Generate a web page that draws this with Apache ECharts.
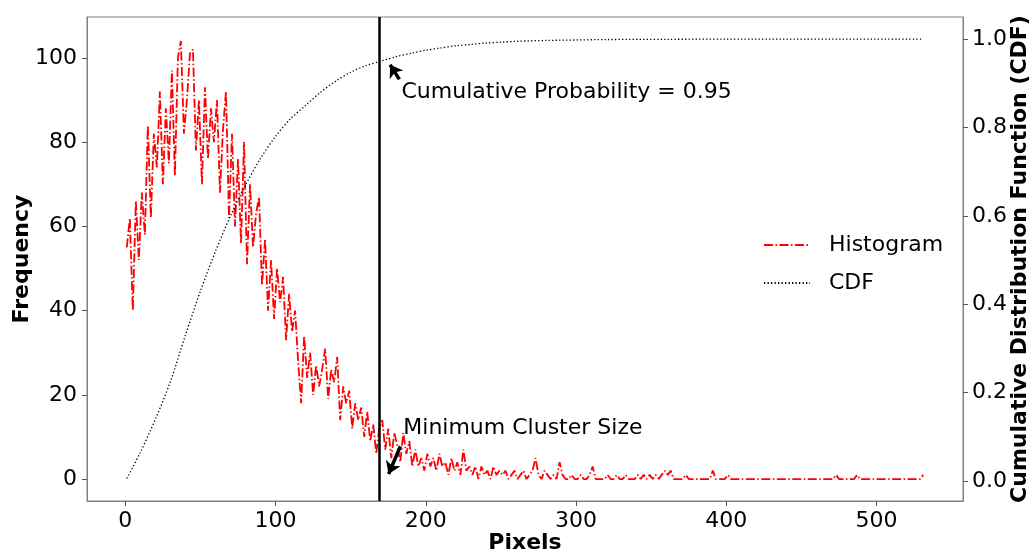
<!DOCTYPE html>
<html>
<head>
<meta charset="utf-8">
<script src="https://cdn.jsdelivr.net/npm/echarts@6/dist/echarts.min.js"></script>
<style>
html, body { margin: 0; padding: 0; background: #fff; }
#main { width: 1034px; height: 557px; }
</style>
</head>
<body>
<div id="main"></div>
<script>
// histogram: one value every 2 pixels, starting at pixel 1
var histStart = 1;
var histStep = 2;
var histFreq = [
    55, 62, 40, 66, 52, 68, 58, 84, 62, 82,     // 1 - 19
    74, 92, 70, 88, 75, 97, 72, 100, 104, 82,   // 21 - 39
    90, 101, 102, 78, 90, 70, 93, 76, 88, 80,   // 41 - 59
    90, 68, 83, 92, 62, 82, 60, 76, 56, 80,     // 61 - 79
    51, 70, 55, 63, 67, 46, 57, 40, 52, 38,     // 81 - 99
    50, 42, 48, 33, 44, 35, 40, 28, 18, 34,     // 101 - 119
    24, 30, 20, 27, 22, 26, 31, 19, 26, 23,     // 121 - 139
    29, 14, 22, 18, 21, 12, 18, 14, 17, 10,     // 141 - 159
    16, 9, 13, 6, 12, 14, 7, 12, 5, 11,         // 161 - 179
    8, 4, 11, 6, 9, 3, 7, 3, 5, 2,              // 181 - 199
    6, 3, 5, 2, 6, 3, 4, 1, 5, 2,               // 201 - 219
    4, 1, 7, 2, 3, 1, 3, 0, 3, 1,               // 221 - 239
    2, 0, 3, 1, 2,                              // 241 - 249
    1, 2, 0, 1, 2, 0, 1, 2, 0, 1,               // 251 - 269
    2, 5, 1, 0, 2, 1, 0, 1, 0, 4,               // 271 - 289
    1, 0, 0, 1, 0, 0, 1, 0, 0, 1,               // 291 - 309
    3, 0, 0, 0, 0, 1, 0, 0, 1, 0,               // 311 - 329
    0, 1, 0, 0, 0, 1, 0, 1, 0, 1,               // 331 - 349
    0, 1, 0, 1, 2, 1, 2, 0, 0, 0,               // 351 - 369
    0, 1, 0, 0, 0, 0, 0, 0, 0, 0,               // 371 - 389
    2, 0, 0, 0, 0, 1, 0, 0, 0, 0,               // 391 - 409
    0, 0, 0, 0, 0, 0, 0, 0, 0, 0,               // 411 - 429
    0, 0, 0, 0, 0, 0, 0, 0, 0, 0,               // 431 - 449
    0, 0, 0, 0, 0, 0, 0, 0, 0, 0,               // 451 - 469
    0, 1, 0, 0, 0, 0, 0, 0, 1, 0,               // 471 - 489
    0, 0, 0, 0, 0, 0, 0, 0, 0, 0,               // 491 - 509
    0, 0, 0, 0, 0, 0, 0, 0, 0, 0,               // 511 - 529
    1                                           // 531
];

var cdfX = [1, 10, 20, 30, 40, 50, 60, 70, 80, 90, 100, 110, 120, 130, 140, 150, 160, 170, 180, 190,
            200, 210, 220, 230, 240, 250, 260, 280, 300, 320, 360, 400, 531];
var cdfY = [0.006, 0.065, 0.14, 0.225, 0.33, 0.43, 0.52, 0.60, 0.67, 0.73, 0.78, 0.82, 0.85, 0.88, 0.905, 0.925, 0.94, 0.95, 0.96, 0.968,
            0.975, 0.98, 0.985, 0.988, 0.991, 0.993, 0.995, 0.997, 0.998, 0.999, 0.9995, 1.0, 1.0];

var cutoffPixels = 169;

var xTicks = [0, 100, 200, 300, 400, 500];
var freqTicks = [0, 20, 40, 60, 80, 100];
var cdfTicks = [0, 0.2, 0.4, 0.6, 0.8, 1.0];

var FONT = 'DejaVu Sans';
var SPINE = '#808080';

var histData = [];
for (var i = 0; i < histFreq.length; i++) {
    histData.push([histStart + i * histStep, histFreq[i]]);
}
var cdfData = [];
for (var j = 0; j < cdfX.length; j++) {
    cdfData.push([cdfX[j], cdfY[j]]);
}

var myChart = echarts.init(document.getElementById('main'));

function axisName() {
    return { fontFamily: FONT, fontSize: 22, fontWeight: 'bold', color: '#000' };
}

var option = {
    animation: false,
    grid: {
        left: 87, right: 71, top: 17, bottom: 56,
        containLabel: false, outerBoundsMode: 'none',
        show: true, borderColor: SPINE, borderWidth: 1
    },
    legend: {
        orient: 'vertical',
        left: 758,
        top: 229,
        itemWidth: 46,
        itemHeight: 14,
        itemGap: 16,
        data: ['Histogram', 'CDF'],
        itemStyle: { opacity: 0 },
        textStyle: { fontFamily: FONT, fontSize: 22, color: '#000', padding: [0, 0, 0, 14] }
    },
    xAxis: {
        type: 'value',
        min: -25.5,
        max: 557.5,
        name: 'Pixels',
        nameLocation: 'middle',
        nameGap: 31,
        nameMoveOverlap: false,
        nameTextStyle: axisName(),
        axisLine: { show: true, onZero: false, lineStyle: { color: SPINE } },
        axisTick: { show: true, length: 5, customValues: xTicks, lineStyle: { color: '#555' } },
        axisLabel: { customValues: xTicks, fontFamily: FONT, fontSize: 22, color: '#000', margin: 9 },
        splitLine: { show: false }
    },
    yAxis: [{
        type: 'value',
        position: 'left',
        min: -5.2,
        max: 109.7,
        name: 'Frequency',
        nameLocation: 'middle',
        nameGap: 54,
        nameMoveOverlap: false,
        nameTextStyle: axisName(),
        axisLine: { show: true, onZero: false, lineStyle: { color: SPINE } },
        axisTick: { show: true, length: 5, customValues: freqTicks, lineStyle: { color: '#555' } },
        axisLabel: { customValues: freqTicks, fontFamily: FONT, fontSize: 22, color: '#000', margin: 10 },
        splitLine: { show: false }
    }, {
        type: 'value',
        position: 'right',
        min: -0.045,
        max: 1.05,
        name: 'Cumulative Distribution Function (CDF)',
        nameLocation: 'middle',
        nameGap: 46,
        nameMoveOverlap: false,
        nameTextStyle: axisName(),
        axisLine: { show: true, onZero: false, lineStyle: { color: SPINE } },
        axisTick: { show: true, length: 5, customValues: cdfTicks, lineStyle: { color: '#555' } },
        axisLabel: {
            customValues: cdfTicks, fontFamily: FONT, fontSize: 22, color: '#000', margin: 9,
            formatter: function (v) { return v.toFixed(1); }
        },
        splitLine: { show: false }
    }],
    series: [{
        name: 'Histogram',
        type: 'line',
        yAxisIndex: 0,
        data: histData,
        symbol: 'none',
        itemStyle: { color: '#ff0000' },
        lineStyle: { color: '#ff0000', width: 1.8, type: [9, 2.5, 1.5, 2.5] },
        markLine: {
            silent: true,
            symbol: 'none',
            label: { show: false },
            data: [
                { xAxis: cutoffPixels, lineStyle: { color: '#000', width: 2.5, type: 'solid' } },
                [
                    { coord: [183.1, 7.8], lineStyle: { color: '#000', width: 3.5, type: 'solid' } },
                    { coord: [175.2, 1.2], symbol: 'arrow', symbolSize: [12, 12] }
                ]
            ]
        },
        markPoint: {
            silent: true,
            symbolSize: 0,
            data: [{ coord: [185, 12.1] }],
            label: {
                show: true, position: 'right', distance: 0, formatter: 'Minimum Cluster Size',
                fontFamily: FONT, fontSize: 22, color: '#000'
            }
        }
    }, {
        name: 'CDF',
        type: 'line',
        yAxisIndex: 1,
        data: cdfData,
        symbol: 'none',
        smooth: 0.3,
        itemStyle: { color: '#000' },
        lineStyle: { color: '#000', width: 1.3, type: [1.3, 2.2] },
        markLine: {
            silent: true,
            symbol: 'none',
            label: { show: false },
            data: [
                [
                    { coord: [182.4, 0.909], lineStyle: { color: '#000', width: 3.5, type: 'solid' } },
                    { coord: [176.2, 0.942], symbol: 'arrow', symbolSize: [12, 12] }
                ]
            ]
        },
        markPoint: {
            silent: true,
            symbolSize: 0,
            data: [{ coord: [183.8, 0.879] }],
            label: {
                show: true, position: 'right', distance: 0, formatter: 'Cumulative Probability = 0.95',
                fontFamily: FONT, fontSize: 22, color: '#000'
            }
        }
    }]
};

myChart.setOption(option);
</script>
</body>
</html>
